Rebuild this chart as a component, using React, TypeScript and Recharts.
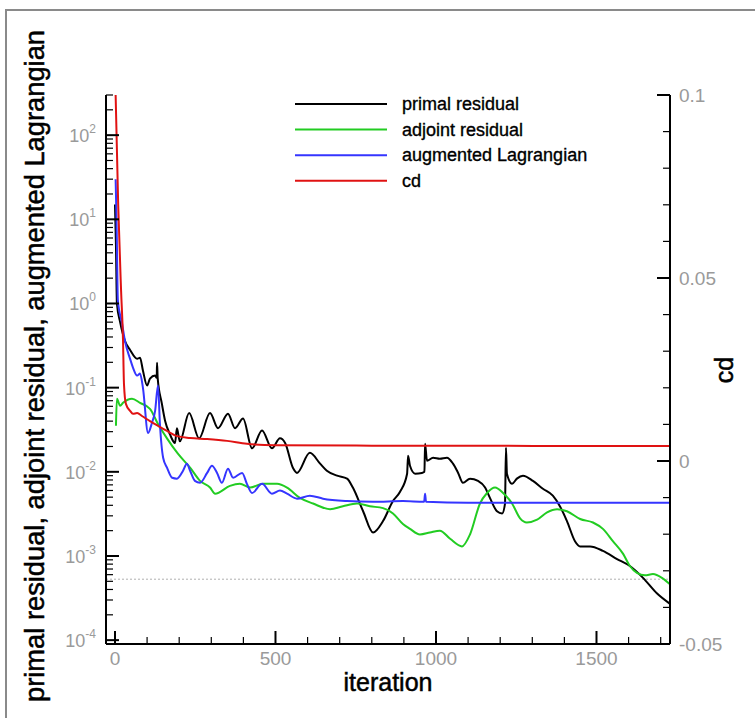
import React from 'react';
import { LineChart, Line, XAxis, YAxis, ReferenceLine, Legend, Label } from 'recharts';

// [iteration, value] pairs
const primal: [number, number][] = [
  [0, 15], [3, 5], [6, 1.0], [16, 0.6], [31, 0.36], [47, 0.28], [69, 0.22], [78, 0.227], [87, 0.16],
  [100, 0.106], [109, 0.128], [125, 0.139], [130, 0.131], [131, 0.198], [133, 0.13], [146, 0.0645],
  [156, 0.0405], [171, 0.028], [187, 0.022], [193, 0.033], [202, 0.023], [231, 0.05], [262, 0.025],
  [296, 0.05], [321, 0.033], [352, 0.049], [374, 0.033], [399, 0.043], [427, 0.019], [458, 0.031],
  [489, 0.019], [514, 0.025], [530, 0.022], [555, 0.011], [567, 0.0097], [607, 0.0168], [639, 0.0125],
  [660, 0.0103], [692, 0.009], [723, 0.0083], [741, 0.0065], [773, 0.0034], [804, 0.0019], [835, 0.0026],
  [866, 0.0045], [888, 0.0058], [910, 0.0095], [913, 0.0155], [919, 0.0118], [935, 0.0095], [956, 0.0097],
  [964, 0.01], [966, 0.0216], [972, 0.0135], [991, 0.0147], [1012, 0.0143], [1034, 0.0147], [1053, 0.0125],
  [1069, 0.0097], [1084, 0.0074], [1106, 0.0083], [1131, 0.0078], [1153, 0.0065], [1168, 0.0049],
  [1190, 0.0034], [1206, 0.0032], [1215, 0.0042], [1218, 0.0193], [1221, 0.0095], [1237, 0.0072],
  [1252, 0.0083], [1271, 0.009], [1302, 0.0078], [1333, 0.0063], [1364, 0.0052], [1386, 0.0039],
  [1408, 0.0026], [1433, 0.0015], [1449, 0.0013], [1480, 0.0013], [1520, 0.00115], [1564, 0.00092],
  [1604, 0.00076], [1645, 0.00055], [1688, 0.00036], [1729, 0.00027],
];

const adjoint: [number, number][] = [
  [3, 0.0353], [6, 0.074], [16, 0.061], [25, 0.066], [53, 0.074], [78, 0.066], [109, 0.056], [134, 0.037],
  [162, 0.025], [196, 0.0164], [234, 0.0112], [265, 0.0078], [296, 0.0065], [312, 0.0055], [358, 0.0068],
  [389, 0.0072], [421, 0.0065], [461, 0.0072], [505, 0.0072], [536, 0.0065], [576, 0.0049], [617, 0.0042],
  [670, 0.0036], [710, 0.0039], [754, 0.0042], [794, 0.0039], [835, 0.0037], [866, 0.0032], [897, 0.0024],
  [919, 0.0021], [950, 0.0018], [981, 0.0019], [1012, 0.002], [1044, 0.0016], [1081, 0.0013], [1106, 0.0018],
  [1137, 0.0042], [1159, 0.0056], [1184, 0.0065], [1209, 0.0056], [1237, 0.0042], [1262, 0.0028],
  [1283, 0.0025], [1315, 0.0027], [1346, 0.0033], [1377, 0.0036], [1408, 0.0034], [1449, 0.00275],
  [1489, 0.0025], [1520, 0.0021], [1551, 0.0015], [1583, 0.00106], [1604, 0.00076], [1626, 0.00063],
  [1651, 0.00059], [1676, 0.00061], [1704, 0.00055], [1729, 0.00046],
];

const augLag: [number, number][] = [
  [2, 30], [5, 9], [9, 1.09], [22, 0.58], [31, 0.36], [47, 0.22], [56, 0.173], [69, 0.139], [78, 0.147],
  [87, 0.1], [103, 0.029], [115, 0.038], [125, 0.053], [134, 0.106], [140, 0.037], [150, 0.0147],
  [162, 0.0112], [178, 0.0085], [193, 0.0083], [212, 0.0103], [224, 0.0125], [234, 0.0103], [249, 0.0078],
  [265, 0.0074], [287, 0.0097], [302, 0.0118], [318, 0.0097], [333, 0.0074], [352, 0.0109], [368, 0.0085],
  [396, 0.0097], [411, 0.0072], [427, 0.0056], [458, 0.0072], [489, 0.0055], [514, 0.006], [536, 0.0055],
  [567, 0.0048], [607, 0.0052], [648, 0.0048], [723, 0.0045], [804, 0.0044], [897, 0.0045], [963, 0.0044],
  [966, 0.0055], [969, 0.0044], [1100, 0.0043], [1400, 0.0043], [1729, 0.0043],
];

// cd on the right axis
const cd: [number, number][] = [
  [2, 0.1], [10, 0.07], [19, 0.0465], [25, 0.033], [28, 0.021], [34, 0.0156], [47, 0.0137], [56, 0.0129],
  [69, 0.0131], [84, 0.0123], [109, 0.0109], [134, 0.0096], [162, 0.0082], [193, 0.0068], [234, 0.0063],
  [287, 0.006], [349, 0.0055], [411, 0.0047], [500, 0.0043], [800, 0.0042], [1729, 0.0041],
];

const dottedLevel = 5.3e-4;

const xMajor = [0, 500, 1000, 1500];
const xTicks = [0, 100, 200, 300, 400, 500, 600, 700, 800, 900, 1000, 1100, 1200, 1300, 1400, 1500, 1600, 1700];
const yDomain: [number, number] = [9e-5, 300];
const yTicks: number[] = [];
for (let k = -5; k <= 2; k++) {
  for (let m = 1; m <= 9; m++) {
    const v = m * Math.pow(10, k);
    if (v >= yDomain[0] && v <= yDomain[1] * 1.0001) yTicks.push(v);
  }
}
const cdTicks = [-5, -4, -3, -2, -1, 0, 1, 2, 3, 4, 5, 6, 7, 8, 9, 10].map((i) => i / 100);
const cdMajor = [-0.05, 0, 0.05, 0.1];

const seriesNames = ['primal residual', 'adjoint residual', 'augmented Lagrangian', 'cd'];
const seriesColors = ['#000000', '#22cc22', '#3535ff', '#e01212'];

const FONT = '"Liberation Sans", Arial, Helvetica, sans-serif';
const GRAY = '#9a9a9a';

const rows = (pts: [number, number][]) => pts.map(([it, v]) => ({ it, v }));

const LeftTick = (props: any) => {
  const { x, y, payload } = props;
  const v = payload.value;
  const e = Math.round(Math.log10(v));
  const major = Math.abs(v - Math.pow(10, e)) < 1e-6 * v;
  return (
    <g>
      <line x1={x} y1={y} x2={x + (major ? 13 : 7)} y2={y} stroke="#000" strokeWidth={major ? 2 : 1.2} />
      {major && (
        <text x={x - 10} y={y + 7} textAnchor="end" fill={GRAY} fontSize={18} fontFamily={FONT}>
          10<tspan dy={-9} fontSize={12}>{e}</tspan>
        </text>
      )}
    </g>
  );
};

const RightTick = (props: any) => {
  const { x, y, payload } = props;
  const v = Math.round(payload.value * 100) / 100;
  const major = cdMajor.includes(v);
  return (
    <g>
      <line x1={x} y1={y} x2={x - (major ? 13 : 7)} y2={y} stroke="#000" strokeWidth={major ? 2 : 1.2} />
      {major && (
        <text x={x + 9} y={y + 7} textAnchor="start" fill={GRAY} fontSize={19} fontFamily={FONT}>
          {String(v)}
        </text>
      )}
    </g>
  );
};

const BottomTick = (props: any) => {
  const { x, y, payload } = props;
  const v = payload.value;
  const major = xMajor.includes(v);
  return (
    <g>
      <line x1={x} y1={y} x2={x} y2={y - (major ? 13 : 7)} stroke="#000" strokeWidth={major ? 2 : 1.2} />
      {major && (
        <text x={x} y={y + 21} textAnchor="middle" fill={GRAY} fontSize={19} fontFamily={FONT}>
          {String(v)}
        </text>
      )}
    </g>
  );
};

const LegendBox = () => (
  <svg width={320} height={110}>
    {seriesNames.map((name, i) => {
      const y = 14 + i * 25.6;
      return (
        <g key={name}>
          <line x1={5} y1={y} x2={97} y2={y} stroke={seriesColors[i]} strokeWidth={2} />
          <text x={112} y={y + 6} fontSize={18} fontFamily={FONT} fill="#000" stroke="#000" strokeWidth={0.35}>
            {name}
          </text>
        </g>
      );
    })}
  </svg>
);

export default function App() {
  return (
    <div style={{ position: 'absolute', left: 0, top: 0, width: 755, height: 718, background: '#fff', overflow: 'hidden' }}>
      <div
        style={{
          position: 'absolute', left: 5, top: 9, right: 0, bottom: 0,
          borderTop: '2px solid #8a8a8a', borderLeft: '2px solid #8a8a8a',
        }}
      />
      <div style={{ position: 'absolute', left: 0, top: 0 }}>
        <LineChart width={755} height={718} margin={{ top: 95, right: 0, bottom: 0, left: 0 }}>
          <XAxis
            dataKey="it"
            type="number"
            domain={[-28, 1729]}
            allowDataOverflow
            ticks={xTicks}
            interval={0}
            height={74}
            tick={BottomTick}
            tickLine={false}
            tickSize={0}
            tickMargin={0}
            axisLine={{ stroke: '#000', strokeWidth: 2 }}
          >
            <Label
              content={() => (
                <text x={388} y={691} textAnchor="middle" fontSize={25} fontFamily={FONT} fill="#000" stroke="#000" strokeWidth={0.5}>
                  iteration
                </text>
              )}
            />
          </XAxis>
          <YAxis
            yAxisId="left"
            scale="log"
            domain={yDomain}
            allowDataOverflow
            ticks={yTicks}
            interval={0}
            width={106}
            tick={LeftTick}
            tickLine={false}
            tickSize={0}
            tickMargin={0}
            axisLine={{ stroke: '#000', strokeWidth: 2 }}
          >
            <Label
              content={() => (
                <text
                  x={44}
                  y={366}
                  transform="rotate(-90, 44, 366)"
                  textAnchor="middle"
                  fontSize={27}
                  fontFamily={FONT}
                  fill="#000"
                  stroke="#000"
                  strokeWidth={0.5}
                  textLength={672}
                  lengthAdjust="spacingAndGlyphs"
                >
                  primal residual, adjoint residual, augmented Lagrangian
                </text>
              )}
            />
          </YAxis>
          <YAxis
            yAxisId="right"
            orientation="right"
            domain={[-0.05, 0.1]}
            allowDataOverflow
            ticks={cdTicks}
            interval={0}
            width={85}
            tick={RightTick}
            tickLine={false}
            tickSize={0}
            tickMargin={0}
            axisLine={{ stroke: '#000', strokeWidth: 2 }}
          >
            <Label
              content={() => (
                <text x={733} y={370} transform="rotate(-90, 733, 370)" textAnchor="middle" fontSize={25} fontFamily={FONT} fill="#000" stroke="#000" strokeWidth={0.5}>
                  cd
                </text>
              )}
            />
          </YAxis>
          <ReferenceLine yAxisId="left" y={dottedLevel} stroke="#b0b0b0" strokeDasharray="2 2" strokeWidth={1} />
          <Line yAxisId="left" data={rows(primal)} dataKey="v" name={seriesNames[0]} type="monotone" stroke={seriesColors[0]} strokeWidth={2} dot={false} isAnimationActive={false} />
          <Line yAxisId="left" data={rows(adjoint)} dataKey="v" name={seriesNames[1]} type="monotone" stroke={seriesColors[1]} strokeWidth={2} dot={false} isAnimationActive={false} />
          <Line yAxisId="left" data={rows(augLag)} dataKey="v" name={seriesNames[2]} type="monotone" stroke={seriesColors[2]} strokeWidth={2} dot={false} isAnimationActive={false} />
          <Line yAxisId="right" data={rows(cd)} dataKey="v" name={seriesNames[3]} type="monotone" stroke={seriesColors[3]} strokeWidth={2} dot={false} isAnimationActive={false} />
          <Legend
            layout="horizontal"
            verticalAlign="middle"
            align="center"
            content={LegendBox}
            wrapperStyle={{ left: 290, top: 90, width: 320, height: 110 }}
          />
        </LineChart>
      </div>
    </div>
  );
}
